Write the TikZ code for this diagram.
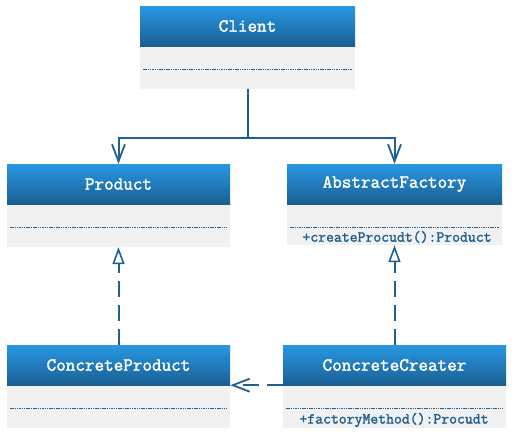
\documentclass[tikz,border=0pt]{standalone}
\usepackage{fontspec}
\newfontfamily\umlfont[FakeBold=1.8]{Latin Modern Mono}
\usetikzlibrary{arrows.meta}
\definecolor{hdtop}{RGB}{40,152,228}
\definecolor{hdbot}{RGB}{26,94,146}
\definecolor{bodyg}{RGB}{241,241,241}
\definecolor{lnc}{RGB}{31,96,145}
\tikzset{
  hdr/.style={rectangle, inner sep=0pt, minimum height=40, top color=hdtop, bottom color=hdbot, draw=none,
    text=white, font=\fontsize{18.6}{20}\selectfont\umlfont},
  bdy/.style={rectangle, inner sep=0pt, fill=bodyg, draw=none},
  sep/.style={lnc, line width=1pt, dash pattern=on 1.5pt off 0.8pt},
  meth/.style={inner sep=0pt, text=lnc, font=\fontsize{15.3}{17}\selectfont\umlfont},
  assoc/.style={lnc, line width=2pt, -{Straight Barb[length=17pt,width=13pt,line width=1.8pt]}},
  real/.style={lnc, line width=2pt, dash pattern=on 16pt off 8pt, -{Triangle[open,length=17pt,width=12pt,line width=1.6pt,fill=white]}},
  dep/.style={lnc, line width=2pt, dash pattern=on 16pt off 8pt, -{Straight Barb[length=17pt,width=13pt,line width=1.8pt]}}
}
\begin{document}
\begin{tikzpicture}[x=1pt,y=-1pt]
\useasboundingbox[fill=white] (0,0) rectangle (515,437);
% Client
\node[hdr, minimum width=215] (client) at (247.5,26) {Client};
\node[bdy, minimum width=215, minimum height=42] (clientb) at (247.5,68) {};
\draw[sep] (143,69) -- (352,69);
% Product
\node[hdr, minimum width=223] (prod) at (118.5,184) {Product};
\node[bdy, minimum width=223, minimum height=42] (prodb) at (118.5,226) {};
\draw[sep] (10,227) -- (227,227);
% AbstractFactory
\node[hdr, minimum width=215] (af) at (394.5,184) {AbstractFactory};
\node[bdy, minimum width=215, minimum height=40] (afb) at (394.5,225) {};
\draw[sep] (290,227) -- (499,227);
\node[meth] (afm) at (397,237) {+createProcudt():Product};
% ConcreteProduct
\node[hdr, minimum width=223] (cp) at (118.5,365) {ConcreteProduct};
\node[bdy, minimum width=223, minimum height=42] (cpb) at (118.5,407) {};
\draw[sep] (10,408) -- (227,408);
% ConcreteCreater
\node[hdr, minimum width=223] (cc) at (394.5,365) {ConcreteCreater};
\node[bdy, minimum width=223, minimum height=42] (ccb) at (394.5,407) {};
\draw[sep] (286,408) -- (503,408);
\node[meth] (ccm) at (394,420) {+factoryMethod():Procudt};
% connectors
\coordinate (j) at (247.5,138);
\draw[lnc, line width=2pt] (clientb.south) -- (j);
\draw[assoc] (j) -| (prod.north);
\draw[assoc] (j) -| (af.north);
\draw[real] (cp.north) -- (prodb.south);
\draw[real] (cc.north) -- (afb.south);
\draw[dep] (cc.south west) -- (cp.south east);
\end{tikzpicture}
\end{document}
